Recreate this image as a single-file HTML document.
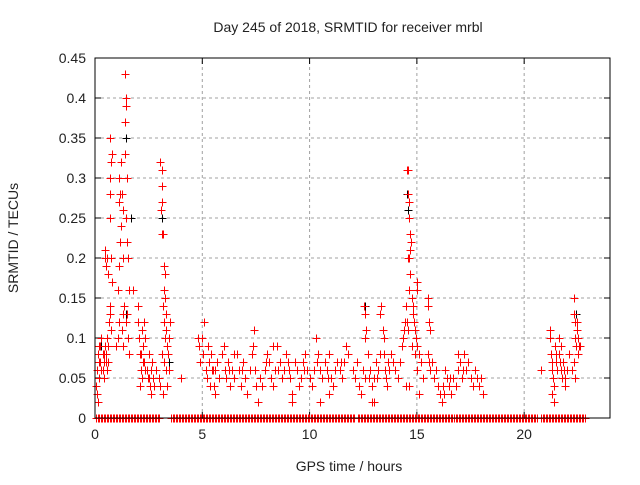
<!DOCTYPE html>
<html><head><meta charset="utf-8"><style>
body{margin:0;background:#fff}
svg text{font-family:"Liberation Sans",sans-serif;font-size:14px;fill:#222}
</style></head><body>
<svg id="c" width="640" height="480">
<text x="348" y="32" text-anchor="middle">Day 245 of 2018, SRMTID for receiver mrbl</text>
<text x="349" y="471" text-anchor="middle">GPS time / hours</text>
<text transform="translate(18,238) rotate(-90)" text-anchor="middle">SRMTID / TECUs</text>
<g id="grid"></g><g id="ticks"></g><g id="marks"></g>
<rect x="95" y="58" width="515" height="360" fill="none" stroke="#000" stroke-width="1"/>
</svg>
<script>
const xTicks=[0,5,10,15,20];
const yTicks=[0,0.05,0.1,0.15,0.2,0.25,0.3,0.35,0.4,0.45];
const yTickLabels=["0","0.05","0.1","0.15","0.2","0.25","0.3","0.35","0.4","0.45"];
const zeroRanges=[[0.05,3.0],[3.55,12.1],[12.25,20.6],[20.8,22.9]];
const points=[[0.05,0.04],[0.1,0.03],[0.1,0.06],[0.15,0.08],[0.2,0.07],[0.25,0.09],[0.3,0.06],[0.3,0.1],[0.35,0.08],[0.4,0.07],[0.45,0.09],[0.5,0.08],[0.55,0.1],[0.6,0.07],[0.65,0.12],[0.7,0.13],[0.75,0.11],[0.2,0.05],[0.4,0.05],[0.55,0.06],[0.45,0.2],[0.5,0.19],[0.55,0.2],[0.6,0.18],[0.45,0.21],[0.7,0.35],[0.75,0.32],[0.72,0.3],[0.68,0.28],[0.7,0.25],[0.75,0.2],[0.8,0.17],[0.7,0.14],[0.8,0.33],[0.15,0.02],[0.25,0.07],[0.35,0.06],[0.5,0.07],[0.6,0.09],[0.2,0.09],[0.4,0.08],
[1.0,0.09],[1.05,0.1],[1.1,0.12],[1.05,0.16],[1.1,0.19],[1.15,0.22],[1.2,0.24],[1.1,0.27],[1.15,0.28],[1.1,0.3],[1.2,0.32],[1.25,0.28],[1.3,0.26],[1.3,0.2],[1.35,0.14],[1.3,0.13],[1.25,0.11],[1.3,0.09],[1.4,0.43],[1.45,0.4],[1.45,0.39],[1.42,0.37],[1.4,0.33],[1.5,0.3],[1.45,0.25],[1.5,0.22],[1.55,0.2],[1.6,0.16],[1.5,0.13],[1.45,0.12],[1.55,0.1],[1.6,0.08],[1.75,0.16],[2.0,0.14],
[2.0,0.12],[2.05,0.1],[2.1,0.08],[2.15,0.06],[2.2,0.05],[2.1,0.04],[2.25,0.09],[2.3,0.07],[2.35,0.1],[2.4,0.06],[2.45,0.05],[2.5,0.08],[2.55,0.04],[2.6,0.06],[2.2,0.11],[2.3,0.12],[2.6,0.03],[2.65,0.07],[2.7,0.05],[2.75,0.04],[2.85,0.06],[2.15,0.08],[2.35,0.06],[2.5,0.05],[2.25,0.07],
[3.05,0.32],[3.1,0.31],[3.1,0.29],[3.12,0.27],[3.08,0.26],[3.15,0.23],[3.1,0.23],[3.2,0.19],[3.25,0.18],[3.2,0.16],[3.25,0.15],[3.15,0.14],[3.2,0.12],[3.3,0.11],[3.25,0.1],[3.35,0.09],[3.1,0.08],[3.2,0.07],[3.3,0.06],[3.4,0.08],[3.45,0.1],[3.5,0.12],[3.0,0.05],[3.05,0.04],[3.15,0.03],[3.3,0.13],[3.45,0.06],[3.35,0.04],
[4.0,0.05],[4.8,0.1],[4.85,0.09],[4.9,0.07],[5.0,0.1],[5.05,0.08],[5.1,0.12],[5.15,0.06],[5.2,0.05],[5.25,0.09],[5.3,0.07],[5.35,0.04],[5.4,0.08],[5.5,0.06],[5.55,0.04],[5.6,0.03],[5.7,0.07],[5.8,0.05],[5.9,0.08],[6.0,0.09],[6.05,0.06],[6.1,0.05],[6.2,0.07],[6.3,0.04],[6.4,0.06],[6.5,0.05],[6.6,0.08],[6.7,0.06],[6.8,0.04],[6.9,0.07],[7.0,0.05],[7.1,0.03],[7.2,0.06],[7.3,0.08],[7.4,0.11],[7.35,0.09],[7.45,0.06],[7.5,0.04],[7.6,0.02],[7.7,0.05],[7.8,0.04],[7.9,0.06],[8.0,0.08],[8.1,0.07],[8.2,0.05],[8.3,0.04],[8.4,0.06],[8.5,0.09],[8.6,0.07],[8.7,0.05],[8.8,0.06],[8.9,0.08],[9.0,0.07],[9.1,0.05],[9.2,0.03],[9.3,0.07],[9.4,0.06],[9.5,0.04],[9.6,0.05],[9.7,0.07],[9.8,0.08],[9.9,0.06],[10.0,0.05],[10.1,0.04],[10.2,0.06],[10.3,0.1],[10.4,0.08],[10.5,0.06],[10.6,0.05],[10.7,0.07],[10.8,0.06],[10.9,0.08],[11.0,0.05],[11.1,0.04],[11.2,0.06],[11.3,0.07],[11.4,0.06],[11.5,0.05],[11.6,0.07],[11.7,0.09],[11.8,0.08],[9.2,0.02],[8.3,0.09],[6.5,0.08],[5.6,0.06],[10.5,0.02],[10.9,0.03],[5.45,0.06],[6.25,0.06],[6.85,0.06],[7.95,0.07],[8.55,0.06],[9.05,0.06],[9.75,0.06],[10.35,0.07],[10.85,0.05],[11.45,0.07],
[12.0,0.06],[12.1,0.05],[12.2,0.07],[12.3,0.04],[12.4,0.03],[12.5,0.06],[12.6,0.05],[12.55,0.14],[12.6,0.13],[12.62,0.11],[12.6,0.1],[12.7,0.08],[12.8,0.06],[12.9,0.04],[13.0,0.05],[13.1,0.07],[13.2,0.06],[13.3,0.08],[13.35,0.14],[13.3,0.13],[13.4,0.11],[13.45,0.1],[13.45,0.08],[13.5,0.06],[13.55,0.05],[13.6,0.04],[13.7,0.06],[13.8,0.08],[13.9,0.07],[14.0,0.06],[14.1,0.05],[13.0,0.02],[12.9,0.02],[14.2,0.07],[12.75,0.05],[13.15,0.05],[13.65,0.07],
[14.3,0.09],[14.35,0.1],[14.4,0.11],[14.45,0.12],[14.5,0.14],[14.55,0.31],[14.6,0.31],[14.6,0.28],[14.65,0.27],[14.65,0.25],[14.7,0.23],[14.72,0.22],[14.7,0.21],[14.6,0.2],[14.65,0.2],[14.7,0.18],[14.65,0.16],[14.75,0.15],[14.55,0.12],[14.6,0.11],[14.8,0.14],[14.8,0.13],[14.85,0.12],[14.9,0.11],[14.95,0.1],[15.0,0.09],[15.0,0.17],[15.0,0.16],[14.9,0.08],[14.75,0.09],[14.5,0.04],[14.65,0.04],[15.0,0.06],[15.1,0.08],[15.2,0.07],[15.3,0.05],[15.1,0.03],
[15.5,0.15],[15.5,0.14],[15.55,0.12],[15.6,0.11],[15.5,0.08],[15.55,0.07],[15.6,0.06],[15.7,0.07],[15.8,0.05],[15.9,0.06],[16.0,0.04],[16.1,0.03],[16.2,0.04],[16.3,0.06],[16.4,0.05],[16.5,0.04],[16.6,0.03],[16.7,0.05],[16.8,0.04],[16.9,0.06],[17.0,0.07],[17.1,0.05],[17.2,0.08],[17.3,0.06],[17.4,0.07],[17.5,0.05],[17.6,0.04],[17.7,0.06],[17.8,0.05],[17.9,0.04],[18.0,0.05],[18.1,0.03],[16.15,0.02],[16.9,0.08],[16.25,0.03],[16.55,0.05],[17.15,0.06],
[20.8,0.06],[21.2,0.11],[21.2,0.1],[21.25,0.08],[21.3,0.07],[21.3,0.06],[21.35,0.05],[21.4,0.04],[21.3,0.03],[21.45,0.09],[21.5,0.08],[21.5,0.07],[21.55,0.06],[21.6,0.08],[21.65,0.07],[21.7,0.06],[21.75,0.05],[21.8,0.07],[21.85,0.06],[21.9,0.05],[21.9,0.04],[22.0,0.06],[21.6,0.1],[21.7,0.09],[22.3,0.15],[22.3,0.13],[22.35,0.12],[22.35,0.1],[22.4,0.09],[22.45,0.11],[22.5,0.1],[22.55,0.09],[22.5,0.08],[22.3,0.07],[22.25,0.06],[22.35,0.05],[22.6,0.09],[22.45,0.12],[21.4,0.02],[22.1,0.08]];
const blackPoints=[[1.45,0.35],[1.5,0.3],[0.3,0.09],[1.7,0.25],[3.1,0.25],[14.55,0.28],[14.6,0.26],[12.6,0.14],[21.2,0.11],[22.4,0.13],[1.45,0.13],[3.45,0.07]];
const NS="http://www.w3.org/2000/svg";
const X0=95,X1=610,Y0=418,Y1=58,XMAX=24,YMAX=0.45;
function sx(h){return X0+(X1-X0)*h/XMAX;}
function sy(v){return Y0-(Y0-Y1)*v/YMAX;}
const grid=document.getElementById('grid'),ticks=document.getElementById('ticks'),marks=document.getElementById('marks');
function el(t,a,p){const e=document.createElementNS(NS,t);for(const k in a)e.setAttribute(k,a[k]);p.appendChild(e);return e;}
yTicks.forEach((v,i)=>{
  const y=sy(v);
  if(i>0&&i<yTicks.length-1){const g=el('line',{x1:X0,x2:X1,y1:y,y2:y,stroke:'#a0a0a0','stroke-dasharray':'3,3'},grid);
  
  }
  el('line',{x1:X0,x2:X0+6,y1:y,y2:y,stroke:'#000'},ticks);
  el('line',{x1:X1-6,x2:X1,y1:y,y2:y,stroke:'#000'},ticks);
  const t=el('text',{x:X0-9,y:y+5,'text-anchor':'end'},ticks);t.textContent=yTickLabels[i];
  
  
});
xTicks.forEach(h=>{
  const x=sx(h);
  if(h>0){const g=el('line',{x1:x,x2:x,y1:Y0,y2:Y1,stroke:'#a0a0a0','stroke-dasharray':'3,3'},grid);
  
  }
  el('line',{x1:x,x2:x,y1:Y0,y2:Y0-6,stroke:'#000'},ticks);
  el('line',{x1:x,x2:x,y1:Y1,y2:Y1+6,stroke:'#000'},ticks);
  const t=el('text',{x:x,y:Y0+21,'text-anchor':'middle'},ticks);t.textContent=h;
  
  
});
let d='';
function plus(h,v){const x=Math.round(sx(h))+0.5,y=Math.round(sy(v))+0.5;return `M${x-4} ${y}h8M${x} ${y-4}v8`;}
blackPoints.forEach(p=>{d+=plus(p[0],p[1]);});
const pb=el('path',{d:d,stroke:'#000','stroke-width':1,fill:'none'},marks);


d='';
points.forEach(p=>{d+=plus(p[0],p[1]);});
zeroRanges.forEach(r=>{for(let h=r[0];h<=r[1];h+=0.07)d+=plus(h,0);});
const pr=el('path',{d:d,stroke:'#f00','stroke-width':1,fill:'none'},marks);


</script>
</body></html>
